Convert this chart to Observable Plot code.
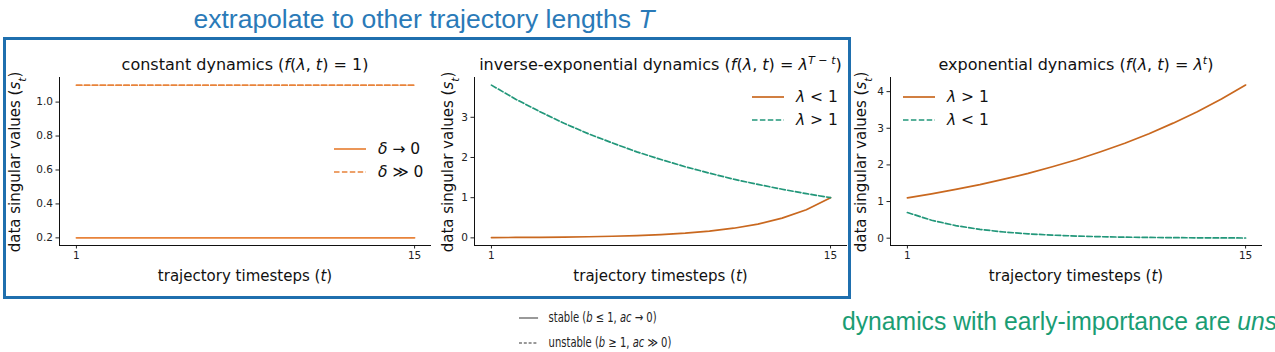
<!DOCTYPE html>
<html><head><meta charset="utf-8">
<script src="https://cdn.jsdelivr.net/npm/d3@7"></script>
<script src="https://cdn.jsdelivr.net/npm/@observablehq/plot@0.6"></script>
<style>
body{margin:0;background:#fff;}
#root{position:relative;width:1275px;height:352px;overflow:hidden;font-family:"DejaVu Sans",sans-serif;}
.abs{position:absolute;white-space:nowrap;}
#box{left:3px;top:37px;width:842px;height:256px;border:3px solid #1f6fae;}
#bigtitle{left:0;width:848px;top:2px;text-align:center;font-family:"Liberation Sans",Arial,sans-serif;font-size:26.5px;line-height:34px;color:#2a7ab8;}
#note{left:842px;top:304px;font-family:"Liberation Sans",Arial,sans-serif;font-size:26px;line-height:34px;color:#1a9d74;transform-origin:left top;transform:scaleX(0.95);}
#leg{left:519px;top:305px;font-size:13.5px;color:#222;transform-origin:left top;transform:scaleX(0.74);}
</style></head><body><div id="root"></div>
<script>
// ---- data ----
const timesteps = [1,2,3,4,5,6,7,8,9,10,11,12,13,14,15];
const constStable   = [0.2,0.2,0.2,0.2,0.2,0.2,0.2,0.2,0.2,0.2,0.2,0.2,0.2,0.2,0.2];
const constUnstable = [1.1,1.1,1.1,1.1,1.1,1.1,1.1,1.1,1.1,1.1,1.1,1.1,1.1,1.1,1.1];
const invExpStable   = [0.007,0.010,0.014,0.020,0.028,0.040,0.058,0.082,0.118,0.168,0.240,0.343,0.490,0.700,1.000];
const invExpUnstable = [3.80,3.45,3.14,2.85,2.59,2.36,2.14,1.95,1.77,1.61,1.46,1.33,1.21,1.10,1.00];
const expUnstable = [1.10,1.21,1.33,1.46,1.61,1.77,1.95,2.14,2.36,2.59,2.85,3.14,3.45,3.80,4.18];
const expStable   = [0.700,0.490,0.343,0.240,0.168,0.118,0.082,0.058,0.040,0.028,0.020,0.014,0.010,0.007,0.005];
const xTicks = [1,15];
const yTicksConst = [0.2,0.4,0.6,0.8,1.0];
const yTicksInv = [0,1,2,3];
const yTicksExp = [0,1,2,3,4];

const ORANGE_LIGHT = "#e8833a";
const ORANGE = "#c9681f";
const GREEN = "#22977a";
const DASH = "5.5,2.4";

const root = document.getElementById("root");

function rich(sel, parts){
  parts.forEach(p=>{
    const ts = sel.append("tspan").text(p[0]);
    const f = p[1]||"";
    if (f.includes("i")) ts.attr("font-style","italic");
    if (f.includes("^")) ts.attr("baseline-shift","super").attr("font-size","70%");
    if (f.includes("_")) ts.attr("baseline-shift","sub").attr("font-size","70%");
  });
}

function panel(o){
  const xDom = [0.3, 15.7];
  const marks = [
    Plot.ruleX([xDom[0]], {stroke:"#111", strokeWidth:1}),
    Plot.ruleY([o.yDomain[0]], {stroke:"#111", strokeWidth:1})
  ];
  o.series.forEach(s=>{
    const rows = s.values.map((v,i)=>({t: timesteps[i], v}));
    marks.push(Plot.line(rows, {x:"t", y:"v", stroke:s.color, strokeWidth:1.7, strokeDasharray: s.dash?DASH:null}));
  });
  const svg = Plot.plot({
    width:o.width, height:260,
    marginLeft:o.mL, marginRight:o.mR, marginTop:37, marginBottom:55,
    style:{fontFamily:"DejaVu Sans", fontSize:"10.5px", color:"#222", background:"transparent", overflow:"visible"},
    x:{domain:xDom, ticks:xTicks, tickSize:3.5, tickPadding:3, label:null},
    y:{domain:o.yDomain, ticks:o.yTicks, tickFormat:o.yFmt, tickSize:3.5, tickPadding:3, label:null},
    marks
  });
  const s = d3.select(svg);
  const cx = (o.mL + o.width - o.mR)/2;
  // title
  rich(s.append("text").attr("x",cx).attr("y",30).attr("text-anchor","middle")
    .attr("font-size",16).attr("fill","#111").attr("font-family","DejaVu Sans"), o.title);
  // x label
  rich(s.append("text").attr("x",cx).attr("y",241).attr("text-anchor","middle")
    .attr("font-size",15).attr("fill","#111").attr("font-family","DejaVu Sans"),
    [["trajectory timesteps ("],["t","i"],[")"]]);
  // y label
  rich(s.append("text").attr("transform",`translate(${o.yLabX},122) rotate(-90)`)
    .attr("text-anchor","middle").attr("dy","0.35em")
    .attr("font-size",15).attr("fill","#111").attr("font-family","DejaVu Sans"),
    [["data singular values ("],["s","i"],["t","_i"],[")"]]);
  // legend
  o.series.forEach((sr,i)=>{
    const y = o.leg.y + i*23;
    s.append("line").attr("x1",o.leg.x).attr("x2",o.leg.x+32).attr("y1",y).attr("y2",y)
      .attr("stroke",sr.color).attr("stroke-width",1.7).attr("stroke-dasharray", sr.dash?DASH:null);
    rich(s.append("text").attr("x",o.leg.x+44).attr("y",y).attr("dy","0.35em").attr("text-anchor","start")
      .attr("font-size",15.5).attr("fill","#111").attr("font-family","DejaVu Sans"), sr.label);
  });
  svg.style.position="absolute";
  svg.style.left=o.left+"px";
  svg.style.top="40px";
  root.appendChild(svg);
}

// box and big title
root.insertAdjacentHTML("beforeend", `<div id="box" class="abs"></div>
<div id="bigtitle" class="abs">extrapolate to other trajectory lengths <i>T</i></div>
<div id="note" class="abs">dynamics with early-importance are <i>unstable</i></div>
<div id="leg" class="abs">
<div style="height:25px;line-height:25px;"><svg width="26" height="10" style="vertical-align:middle;margin-right:14px"><line x1="0" x2="26" y1="5" y2="5" stroke="#999" stroke-width="2"/></svg>stable (<i>b</i> ≤ 1, <i>ac</i> → 0)</div>
<div style="height:25px;line-height:25px;"><svg width="26" height="10" style="vertical-align:middle;margin-right:14px"><line x1="0" x2="26" y1="5" y2="5" stroke="#999" stroke-width="2" stroke-dasharray="4,2.5"/></svg>unstable (<i>b</i> ≥ 1, <i>ac</i> ≫ 0)</div>
</div>`);

panel({
  left:0, width:440, mL:59, mR:9,
  yDomain:[0.155,1.145], yTicks:yTicksConst, yFmt:d3.format(".1f"), yLabX:15,
  title:[["constant dynamics ("],["f","i"],["("],["λ","i"],[", "],["t","i"],[") = 1)"]],
  series:[
    {values:constStable, color:ORANGE_LIGHT, dash:false, label:[["δ","i"],[" → 0"]]},
    {values:constUnstable, color:ORANGE_LIGHT, dash:true, label:[["δ","i"],[" ≫ 0"]]}
  ],
  leg:{x:334, y:109}
});
panel({
  left:420, width:440, mL:54, mR:13,
  yDomain:[-0.19,3.99], yTicks:yTicksInv, yFmt:d3.format("d"), yLabX:28,
  title:[["inverse-exponential dynamics ("],["f","i"],["("],["λ","i"],[", "],["t","i"],[") = "],["λ","i"],["T − t","^i"],[")"]],
  series:[
    {values:invExpStable, color:ORANGE, dash:false, label:[["λ","i"],[" < 1"]]},
    {values:invExpUnstable, color:GREEN, dash:true, label:[["λ","i"],[" > 1"]]}
  ],
  leg:{x:332, y:57}
});
panel({
  left:850, width:425, mL:40, mR:13,
  yDomain:[-0.2,4.386], yTicks:yTicksExp, yFmt:d3.format("d"), yLabX:11,
  title:[["exponential dynamics ("],["f","i"],["("],["λ","i"],[", "],["t","i"],[") = "],["λ","i"],["t","^i"],[")"]],
  series:[
    {values:expUnstable, color:ORANGE, dash:false, label:[["λ","i"],[" > 1"]]},
    {values:expStable, color:GREEN, dash:true, label:[["λ","i"],[" < 1"]]}
  ],
  leg:{x:53, y:57}
});
</script>
</body></html>
